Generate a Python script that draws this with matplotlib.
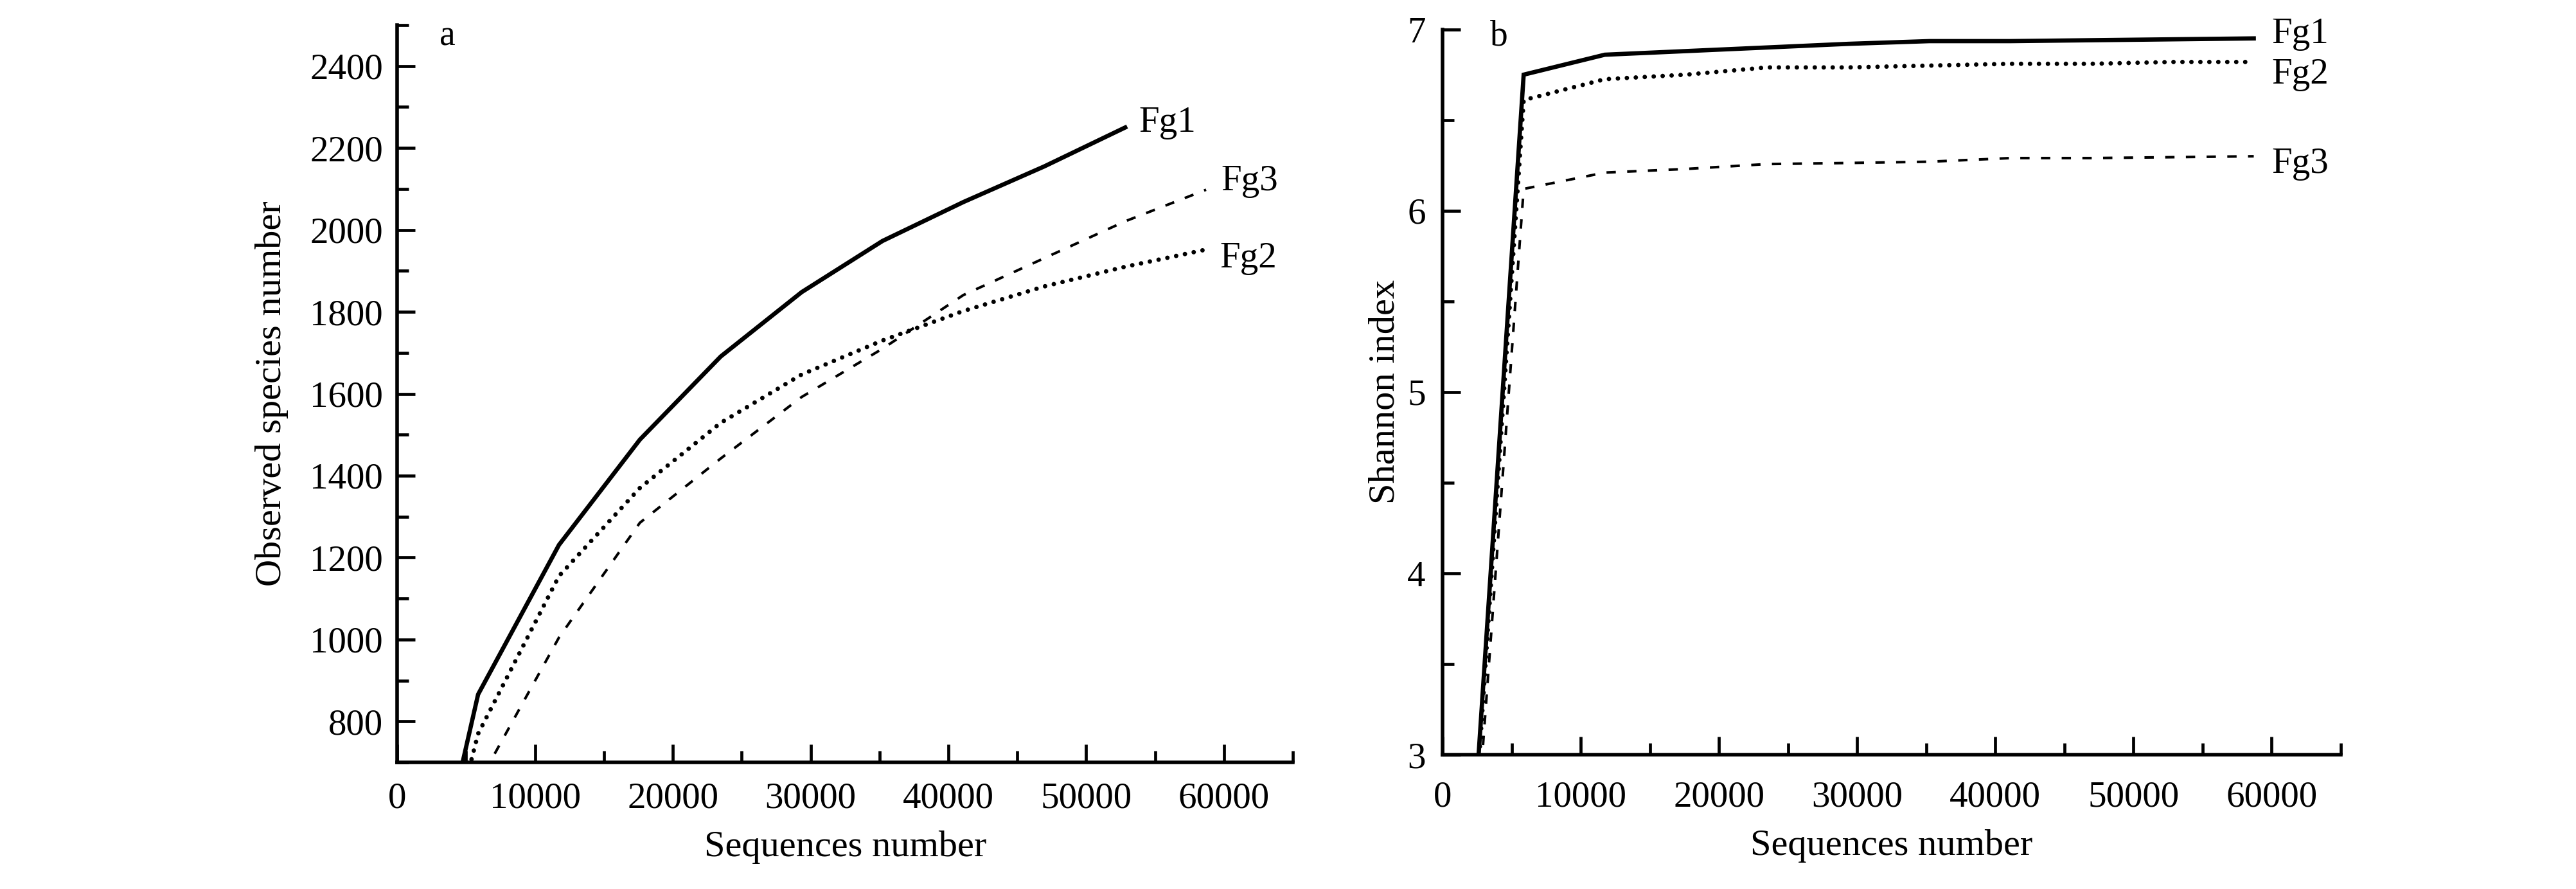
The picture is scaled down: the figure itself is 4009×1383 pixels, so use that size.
import numpy as np
import matplotlib
matplotlib.use("Agg")
import matplotlib.pyplot as plt
from matplotlib.ticker import MultipleLocator

#=======================================================
# Data
#=======================================================

seqs = [0, 5870, 11740, 17610, 23480, 29350, 35220, 41090, 46960, 52830, 58700]

# panel a : observed species
obs_fg1 = [0, 866, 1231, 1488, 1691, 1848, 1973, 2068, 2155, 2250]
obs_fg2 = [0, 770, 1155, 1370, 1529, 1647, 1730, 1802, 1862, 1910, 1952]
obs_fg3 = [0, 648, 1005, 1285, 1442, 1592, 1710, 1841, 1931, 2021, 2098]

# panel b : shannon index
sha_fg1 = [0, 6.75, 6.86, 6.88, 6.90, 6.92, 6.935, 6.935, 6.94, 6.945, 6.95]
sha_fg2 = [0, 6.61, 6.725, 6.75, 6.79, 6.79, 6.80, 6.81, 6.81, 6.82, 6.82]
sha_fg3 = [0, 6.12, 6.21, 6.23, 6.257, 6.263, 6.27, 6.29, 6.29, 6.295, 6.30]

names = ["Fg1", "Fg2", "Fg3"]

#=======================================================
# Style
#=======================================================

plt.rcParams['font.family'] = ['Liberation Serif', 'DejaVu Serif']
plt.rcParams['font.size'] = 41

solid = dict(color='black', lw=4.8, linestyle='-', solid_joinstyle='miter')
dotted = dict(color='black', lw=5, linestyle=(0, (0.01, 2.0)), dash_capstyle='round')
dashed = dict(color='black', lw=2.9, linestyle=(0, (3.6, 4.4)))


def style_axes(ax):
    for s in ['top', 'right']:
        ax.spines[s].set_visible(False)
    for s in ['left', 'bottom']:
        ax.spines[s].set_linewidth(4)
    ax.tick_params(which='major', direction='in', length=20, width=3.4, labelsize=41)
    ax.tick_params(which='minor', direction='in', length=13, width=3.4)
    ax.tick_params(axis='y', pad=16)
    ax.tick_params(axis='x', pad=22)


fig = plt.figure(figsize=(40.09, 13.83), dpi=100)

#=======================================================
# Panel a
#=======================================================

ax1 = fig.add_axes([0.1542, 0.1424, 0.3477, 0.8294])
ax1.plot(seqs[:len(obs_fg1)], obs_fg1, **solid)
ax1.plot(seqs, obs_fg2, **dotted)
ax1.plot(seqs, obs_fg3, **dashed)
ax1.set_xlim(0, 65000)
ax1.set_ylim(700, 2500)
ax1.xaxis.set_major_locator(MultipleLocator(10000))
ax1.xaxis.set_minor_locator(MultipleLocator(5000))
ax1.yaxis.set_minor_locator(MultipleLocator(100))
ax1.set_yticks([800, 1000, 1200, 1400, 1600, 1800, 2000, 2200, 2400])
style_axes(ax1)
ax1.set_xlabel("Sequences number", fontsize=42, labelpad=17)
ax1.set_ylabel("Observed species number", fontsize=42, labelpad=24)
ax1.text(0.047, 0.985, "a", transform=ax1.transAxes, fontsize=40, va='center')
ax1.text(53800, 2262, names[0], va='center')
ax1.text(59700, 1931, names[1], va='center')
ax1.text(59800, 2118, names[2], va='center')

#=======================================================
# Panel b
#=======================================================

ax2 = fig.add_axes([0.5600, 0.1511, 0.3487, 0.8159])
ax2.plot(seqs, sha_fg1, **solid)
ax2.plot(seqs, sha_fg2, **dotted)
ax2.plot(seqs, sha_fg3, **dashed)
ax2.set_xlim(0, 65000)
ax2.set_ylim(3, 7)
ax2.xaxis.set_major_locator(MultipleLocator(10000))
ax2.xaxis.set_minor_locator(MultipleLocator(5000))
ax2.yaxis.set_major_locator(MultipleLocator(1))
ax2.yaxis.set_minor_locator(MultipleLocator(0.5))
style_axes(ax2)
ax2.tick_params(axis='y', pad=19)
ax2.tick_params(axis='x', pad=29)
ax2.set_xlabel("Sequences number", fontsize=42, labelpad=17)
ax2.set_ylabel("Shannon index", fontsize=42, labelpad=6)
ax2.text(0.053, 0.99, "b", transform=ax2.transAxes, fontsize=40, va='center')
ax2.text(60000, 6.975, names[0], va='center')
ax2.text(60000, 6.75, names[1], va='center')
ax2.text(60000, 6.257, names[2], va='center')

fig.savefig("out.png", dpi=100)
